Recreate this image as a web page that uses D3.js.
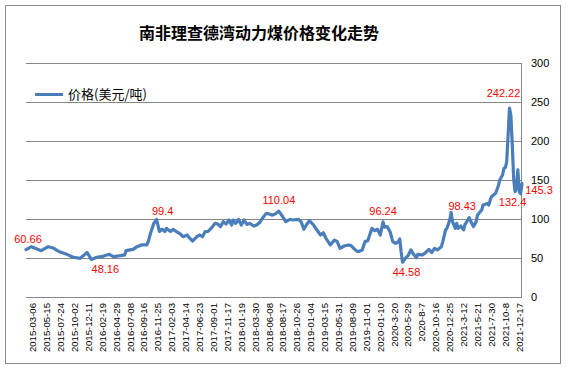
<!DOCTYPE html>
<html><head><meta charset="utf-8">
<script src="https://cdn.jsdelivr.net/npm/d3@7"></script>
<style>body{margin:0;background:#fff}</style>
</head><body>
<svg id="c" width="566" height="369"></svg>
<script>
// week index (0 = 2015-01-30, weekly)
const weekIdx = [0,4,8,11,16,20,24,29,34,39,44,47,51,56,60,63,68,71,72,77,80,83,87,88,90,92,94,96,98,100,101,104,106,108,111,113,116,118,120,123,125,127,129,131,134,136,138,140,142,144,146,148,149,151,153,155,157,159,161,164,166,168,171,173,175,177,179,182,184,187,190,192,196,198,200,202,204,207,209,212,214,216,219,222,224,226,229,232,234,237,239,242,244,246,249,251,253,255,257,258,260,262,264,266,268,269,270,271,273,275,277,279,281,282,285,287,290,292,294,296,299,300,302,303,305,306,307,309,310,311,313,315,316,318,319,320,322,324,325,328,329,332,333,335,338,340,341,343,344,345,346,347,348,349,350,351,352,353,354,355,356,357];
const price = [60.66,64.5,61.5,59.4,64.5,62.4,58,55,51,49.6,57,48.16,51,52.5,54.7,51.7,53,54,59.4,61,64.5,66.7,66.7,71,84,94.4,99.4,84,86.8,84,88,84,86.8,84,80.8,77.3,79.5,75,71.8,77.3,79.5,77.3,84,84,89.6,94.4,93.6,90.2,96.6,93.6,98.7,92.3,98.7,94.4,99.4,92.3,98.7,93,94.4,91,92.3,95.2,103,107.3,106.4,105,106,110.04,105,96.6,99.6,98.7,99.6,96.6,86.8,93,97.8,92.3,86.8,79.5,82.4,75,66.7,73,71,62.4,65.4,66.7,65.8,60.3,58,60.3,71,72.2,88,85,86.8,79.5,96.24,89.6,90.2,84,71,68.7,71,74.4,58,44.58,49.6,53,60.3,54.7,50.4,54.7,53.8,56,61,57,62.4,60.3,64.5,71,86,88,98.7,108.5,96.6,88,94.4,88,91,86,93,98.7,101.7,97.4,90.2,96.6,105,111.5,118,120,118,128.6,133,142.7,150,156.4,165,166,173.5,207.7,242.22,233,195,152,135,140,163,135,132.4,145.3];
const tickLabels = ["2015-03-06","2015-05-15","2015-07-24","2015-10-02","2015-12-11","2016-02-19","2016-04-29","2016-07-08","2016-09-16","2016-11-25","2017-02-03","2017-04-14","2017-06-23","2017-09-01","2017-11-17","2018-01-19","2018-03-30","2018-06-08","2018-08-17","2018-10-26","2019-01-04","2019-03-15","2019-05-31","2019-08-09","2019-11-01","2020-01-10","2020-3-20","2020-5-29","2020-8-7","2020-10-16","2020-12-25","2021-3-12","2021-5-21","2021-7-30","2021-10-8","2021-12-17"];
const tickIdx = tickLabels.map((d,i)=>5+10*i);
const yTicks = [0,50,100,150,200,250,300];
const annoIdx = [0,47,94,182,257,271,306,348,356,357];
const annoText = ["60.66","48.16","99.4","110.04","96.24","44.58","98.43","242.22","132.4","145.3"];
const title = "南非理查德湾动力煤价格变化走势";
const seriesName = "价格(美元/吨)";

const svg = d3.select("#c");
const numFont = "'Liberation Sans', Arial, sans-serif";
const cjkFont = "'Noto Sans CJK SC', 'Liberation Sans', sans-serif";
const blue = "#4a7ebb";

svg.append("rect").attr("x",5.5).attr("y",5.5).attr("width",555).attr("height",358)
  .attr("fill","#fff").attr("stroke","#8c8c8c");

const x = d3.scaleLinear().domain([0,357]).range([26,522]);
const y = d3.scaleLinear().domain([0,300]).range([297,63]);

// gridlines
svg.append("g").selectAll("line").data(yTicks).join("line")
  .attr("x1",26).attr("x2",522)
  .attr("y1",d=>Math.round(y(d))+0.5).attr("y2",d=>Math.round(y(d))+0.5)
  .attr("stroke","#868686").attr("stroke-width",1);
// right axis line
svg.append("line").attr("x1",521.5).attr("x2",521.5).attr("y1",63).attr("y2",297.5)
  .attr("stroke","#868686");

// right axis labels
const ya = d3.axisRight(y).tickValues(yTicks).tickSize(0).tickPadding(9);
const yg = svg.append("g").attr("transform","translate(522,0)").call(ya);
yg.select(".domain").remove();
yg.selectAll("text").attr("font-family",numFont).attr("font-size","11px").attr("fill","#000");

// x labels
svg.append("g").selectAll("text").data(tickLabels).join("text")
  .attr("transform",(d,i)=>`translate(${x(tickIdx[i])},303) rotate(-90)`)
  .attr("text-anchor","end").attr("dy","0.35em")
  .attr("font-family",numFont).attr("font-size","9.6px").attr("fill","#000")
  .text(d=>d);

// line
const pts = weekIdx.map((w,i)=>[w,price[i]]);
svg.append("path").datum(pts)
  .attr("d",d3.line().x(d=>x(d[0])).y(d=>y(d[1])))
  .attr("fill","none").attr("stroke",blue).attr("stroke-width",3.2)
  .attr("stroke-linejoin","round").attr("stroke-linecap","round");

// annotations
const offs = [[2,-7],[14,14],[6,-4.5],[0,-7],[0,-7],[4,14],[11,-2],[-6,-11],[-8,12],[17,10]];
svg.append("g").selectAll("text").data(annoText).join("text")
  .attr("x",(d,i)=>x(annoIdx[i])+offs[i][0])
  .attr("y",(d,i)=>y(price[weekIdx.indexOf(annoIdx[i])])+offs[i][1])
  .attr("text-anchor","middle")
  .attr("font-family",numFont).attr("font-size","11px").attr("fill","#ff0000")
  .text(d=>d);

// title
svg.append("text").attr("x",259).attr("y",38.5).attr("text-anchor","middle")
  .attr("font-family",cjkFont).attr("font-weight","bold").attr("font-size","16px")
  .attr("fill","#000").text(title);

// legend
svg.append("line").attr("x1",35).attr("x2",63).attr("y1",94.5).attr("y2",94.5)
  .attr("stroke",blue).attr("stroke-width",3);
svg.append("text").attr("x",68).attr("y",98.5)
  .attr("font-family",cjkFont).attr("font-size","13px").attr("fill","#000").text(seriesName);
</script>
</body></html>
